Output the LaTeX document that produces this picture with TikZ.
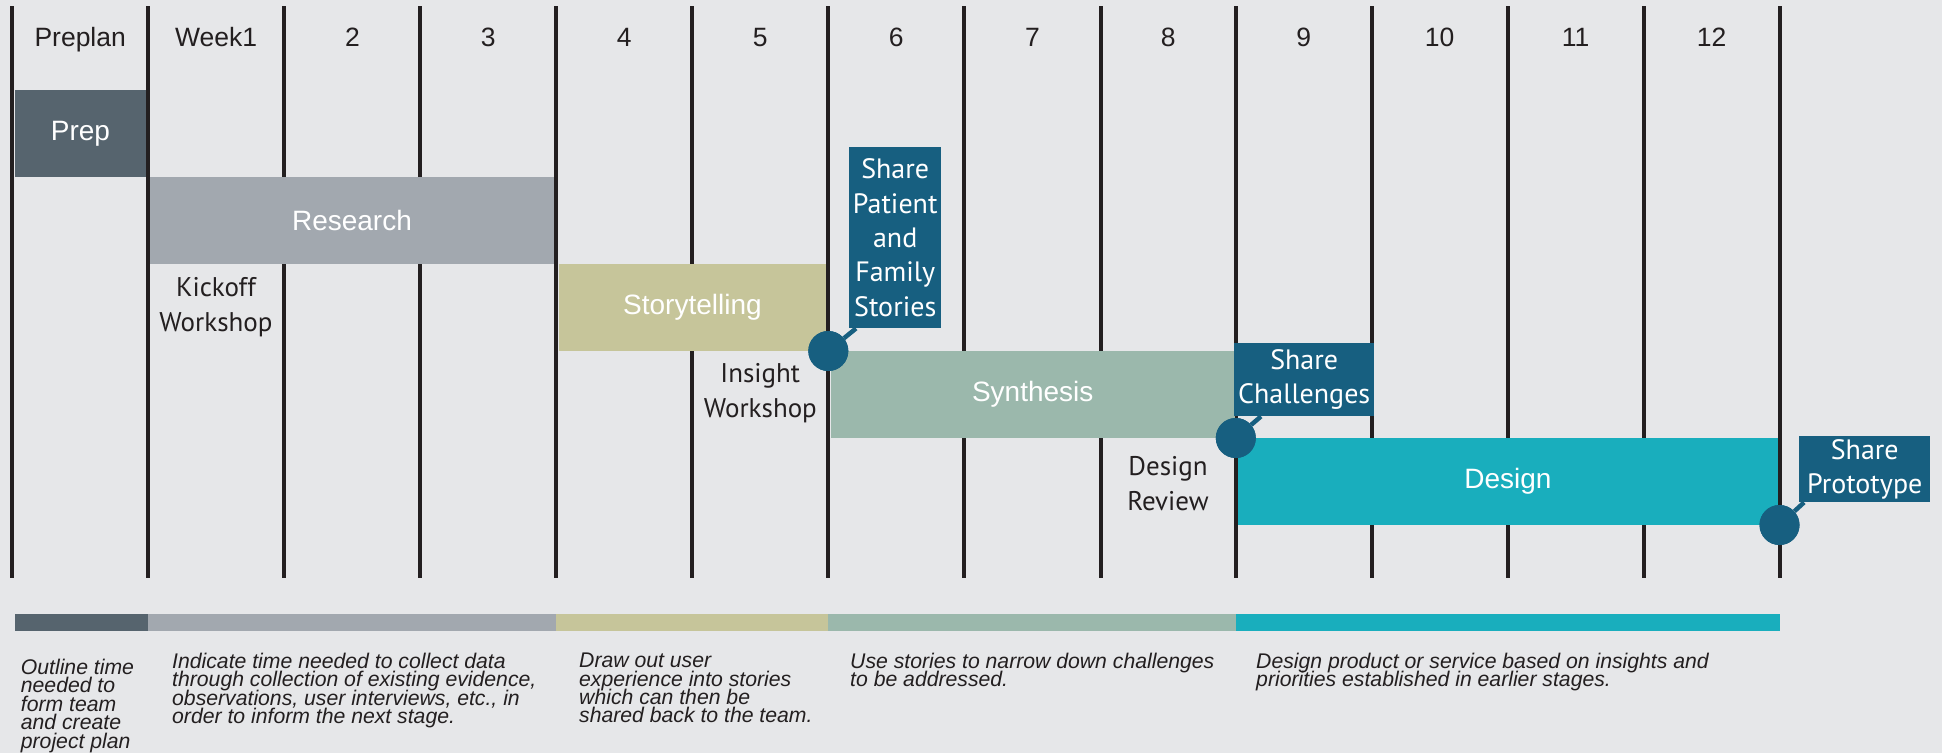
\documentclass[tikz,border=0pt]{standalone}
\usepackage{fontspec}
\setmainfont{Liberation Sans}
\newfontfamily\ptsans{PT Sans}
\definecolor{bgc}{HTML}{E6E7E9}
\definecolor{ink}{HTML}{231F20}
\definecolor{prepc}{HTML}{56646E}
\definecolor{resc}{HTML}{A2A8AF}
\definecolor{storyc}{HTML}{C6C59A}
\definecolor{synthc}{HTML}{9BB8AC}
\definecolor{designc}{HTML}{19AEBD}
\definecolor{mblue}{HTML}{175F80}
\begin{document}
\begin{tikzpicture}[x=1pt,y=-1pt,
  wkline/.style={line width=4pt, draw=ink},
  hdr/.style={font=\fontsize{26.5}{30}\selectfont, text=ink, inner sep=0pt, anchor=base},
  phase/.style={font=\fontsize{28}{32}\selectfont, text=white, inner sep=0pt, anchor=north west, minimum height=87pt},
  lbl/.style={font=\ptsans\fontsize{27}{35}\selectfont, text=ink, align=center, inner sep=0pt},
  msbox/.style={fill=mblue, text=white, font=\ptsans\fontsize{28}{34.35}\selectfont, align=center, inner sep=0pt, anchor=north west},
  mdot/.style={circle, fill=mblue, minimum size=40pt, inner sep=0pt},
  conn/.style={draw=mblue, line width=4.5pt},
  desc/.style={font={\fontsize{21.2}{18.4}\selectfont\itshape\lineskiplimit=-50pt}, text=ink, align=left, inner sep=0pt, anchor=north west}
]
\fill[bgc] (0,0) rectangle (1942,753);
\useasboundingbox (0,0) rectangle (1942,753);

% week lines
\foreach \x in {12.4,148,284.4,420.4,556,692.3,828.3,964.3,1100.7,1235.8,1371.7,1507.6,1643.6,1779.5}
  \draw[wkline] (\x,6) -- (\x,578);

% headers
\node[hdr] (h0) at (80.2,46.7) {Preplan};
\node[hdr] (h1) at (216.2,46.7) {Week1};
\node[hdr] (h2) at (352.4,46.7) {2};
\node[hdr] (h3) at (488.2,46.7) {3};
\node[hdr] (h4) at (624.2,46.7) {4};
\node[hdr] (h5) at (760.3,46.7) {5};
\node[hdr] (h6) at (896.3,46.7) {6};
\node[hdr] (h7) at (1032.5,46.7) {7};
\node[hdr] (h8) at (1168.3,46.7) {8};
\node[hdr] (h9) at (1303.8,46.7) {9};
\node[hdr] (h10) at (1439.7,46.7) {10};
\node[hdr] (h11) at (1575.6,46.7) {11};
\node[hdr] (h12) at (1711.6,46.7) {12};

% phases
\node[phase, fill=prepc, minimum width=131.5pt] (prep) at (14.5,90) {Prep};
\node[phase, fill=resc, minimum width=403.5pt] (research) at (150,177) {Research};
\node[phase, fill=storyc, minimum width=267.5pt] (story) at (558.5,264) {Storytelling};
\node[phase, fill=synthc, minimum width=404.5pt] (synth) at (830.3,351) {Synthesis};
\node[phase, fill=designc, minimum width=539.5pt] (design) at (1238,438) {Design};

% workshop labels
\node[lbl] (kick) at (216,307.5) {Kickoff\\Workshop};
\node[lbl] (insight) at (760.3,393) {Insight\\Workshop};
\node[lbl] (review) at (1168,483.7) {Design\\Review};

% milestone boxes
\node[msbox, minimum width=92pt, minimum height=181pt] (s1) at (849,147) {Share\\Patient\\and\\Family\\Stories};
\node[msbox, minimum width=140pt, minimum height=73pt] (s2) at (1234,343) {Share\\Challenges};
\node[msbox, minimum width=131pt, minimum height=66pt] (s3) at (1799,436) {Share\\Prototype};

% milestone dots and connectors
\node[mdot] (m1) at (828.3,351) {};
\node[mdot] (m2) at (1235.8,438) {};
\node[mdot] (m3) at (1779.5,525) {};
\draw[conn] (m1) -- ([xshift=7pt]s1.south west);
\draw[conn] (m2) -- ([xshift=27pt]s2.south west);
\draw[conn] (m3) -- ([xshift=5pt]s3.south west);
\node[mdot] at (m1) {};
\node[mdot] at (m2) {};
\node[mdot] at (m3) {};

% legend bar
\fill[prepc] (15,614) rectangle (148,631);
\fill[resc] (148,614) rectangle (556,631);
\fill[storyc] (556,614) rectangle (828,631);
\fill[synthc] (828,614) rectangle (1236,631);
\fill[designc] (1236,614) rectangle (1780,631);

% descriptions
\node[desc] (d1) at (20.7,659) {Outline time\\needed to\\form team\\and create\\project plan};
\node[desc] (d2) at (172,653) {Indicate time needed to collect data\\through collection of existing evidence,\\observations, user interviews, etc., in\\order to inform the next stage.};
\node[desc] (d3) at (579,653) {Draw out user\\experience into stories\\which can then be\\shared back to the team.};
\node[desc] (d4) at (850,653) {Use stories to narrow down challenges\\to be addressed.};
\node[desc] (d5) at (1256,653) {Design product or service based on insights and\\priorities established in earlier stages.};
\end{tikzpicture}
\end{document}
